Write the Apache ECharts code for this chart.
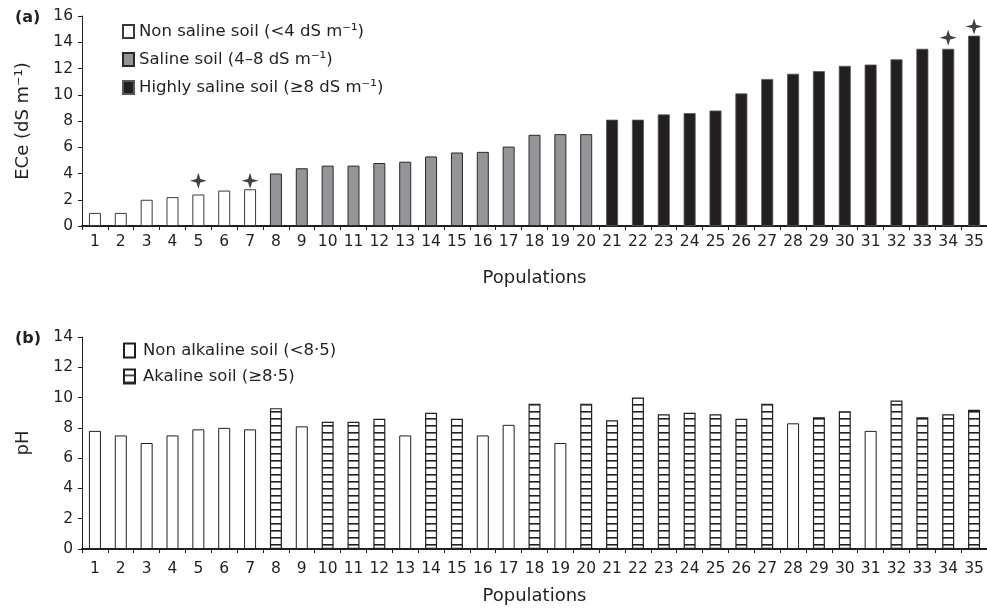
<!DOCTYPE html>
<html>
<head>
<meta charset="utf-8">
<script src="https://cdn.jsdelivr.net/npm/echarts@6/dist/echarts.min.js"></script>
<style>
html,body{margin:0;padding:0;background:#fff;}
#chart{width:987px;height:608px;}
</style>
</head>
<body>
<div id="chart"></div>
<script>
const populations = ['1','2','3','4','5','6','7','8','9','10','11','12','13','14','15','16','17','18','19','20','21','22','23','24','25','26','27','28','29','30','31','32','33','34','35'];
const eceValues = [1.0,1.0,2.0,2.2,2.4,2.7,2.8,4.0,4.4,4.6,4.6,4.8,4.9,5.3,5.6,5.65,6.05,6.95,7.0,7.0,8.1,8.1,8.5,8.6,8.8,10.1,11.2,11.6,11.8,12.2,12.3,12.7,13.5,13.5,14.5];
const phValues = [7.8,7.5,7.0,7.5,7.9,8.0,7.9,9.3,8.1,8.4,8.4,8.6,7.5,9.0,8.6,7.5,8.2,9.6,7.0,9.6,8.5,10.0,8.9,9.0,8.9,8.6,9.6,8.3,8.7,9.1,7.8,9.8,8.7,8.9,9.2];
const alkalinePops = ['8','10','11','12','14','15','18','20','21','22','23','24','25','26','27','29','30','32','33','34','35'];
const starPops = ['5','7','34','35'];
const starLevels = [3.45,3.45,14.35,15.2];
const salineNames = ['Non saline soil (<4 dS m\u207B\u00B9)','Saline soil (4\u20138 dS m\u207B\u00B9)','Highly saline soil (\u22658 dS m\u207B\u00B9)'];
const alkNames = ['Non alkaline soil (<8\u00B75)','Akaline soil (\u22658\u00B75)'];
const eceTitle = 'ECe (dS m\u207B\u00B9)';
const phTitle = 'pH';
const xTitle = 'Populations';

const FONT = 'DejaVu Sans';
const INK = '#231f20';

function hatch(){
  const c = document.createElement('canvas');
  c.width = 6; c.height = 7;
  const g = c.getContext('2d');
  g.fillStyle = '#fff'; g.fillRect(0,0,6,7);
  g.fillStyle = '#231f20'; g.fillRect(0,5,6,1.6);
  return c;
}

const nonSaline = eceValues.map(v => v < 4 ? v : null);
const saline = eceValues.map(v => (v >= 4 && v < 8) ? v : null);
const highSaline = eceValues.map(v => v >= 8 ? v : null);
const alk = phValues.map((v,i) => alkalinePops.includes(populations[i]) ? v : null);
const nonAlk = phValues.map((v,i) => alkalinePops.includes(populations[i]) ? null : v);
const stars = starPops.map((p,i) => [p, starLevels[i]]);

const chart = echarts.init(document.getElementById('chart'), null, {renderer:'canvas'});

function xAxis(gridIndex, labelMargin, nameGap){
  return {
    type:'category', gridIndex, data: populations,
    boundaryGap: true,
    axisLine:{lineStyle:{color:INK, width:2}},
    axisTick:{show:true, length:4, alignWithLabel:false, lineStyle:{color:INK, width:1}},
    axisLabel:{interval:0, margin:labelMargin, color:INK, fontSize:15.5, fontFamily:FONT},
    name: xTitle, nameLocation:'middle', nameGap,
    nameTextStyle:{color:INK, fontSize:18, fontFamily:FONT},
    splitLine:{show:false}
  };
}
function yAxis(gridIndex, max, name){
  return {
    type:'value', gridIndex, min:0, max, interval:2,
    axisLine:{show:true, lineStyle:{color:INK, width:1}},
    axisTick:{show:true, length:4, lineStyle:{color:INK}},
    axisLabel:{margin:9, color:INK, fontSize:15.5, fontFamily:FONT},
    splitLine:{show:false},
    name, nameLocation:'middle', nameGap:50,
    nameTextStyle:{color:INK, fontSize:18, fontFamily:FONT}
  };
}
const barBase = {type:'bar', barWidth:12, barGap:'-100%', emphasis:{disabled:true}};

chart.setOption({
  animation:false,
  backgroundColor:'#fff',
  title:[
    {text:'(a)', left:10, top:5, textStyle:{fontSize:16, fontWeight:'bold', color:INK, fontFamily:FONT}},
    {text:'(b)', left:10, top:326, textStyle:{fontSize:16, fontWeight:'bold', color:INK, fontFamily:FONT}}
  ],
  grid:[
    {left:82, top:16, width:906, height:210},
    {left:82, top:337, width:906, height:212}
  ],
  legend:[
    {data:salineNames, orient:'vertical', left:117, top:18, itemWidth:11, itemHeight:13, itemGap:11, icon:'rect',
     textStyle:{fontSize:16.5, color:INK, fontFamily:FONT, lineHeight:16}, selectedMode:false},
    {data:alkNames, orient:'vertical', left:118, top:337, itemWidth:11, itemHeight:14, itemGap:9, icon:'rect',
     textStyle:{fontSize:16.5, color:INK, fontFamily:FONT, lineHeight:16, padding:[0,0,0,3]}, selectedMode:false}
  ],
  xAxis:[xAxis(0, 8, 43), xAxis(1, 12, 38)],
  yAxis:[yAxis(0, 16, eceTitle), yAxis(1, 14, phTitle)],
  series:[
    Object.assign({}, barBase, {name:salineNames[0], xAxisIndex:0, yAxisIndex:0, data:nonSaline,
      itemStyle:{color:'#ffffff', borderColor:'#3a3a3a', borderWidth:1}}),
    Object.assign({}, barBase, {name:salineNames[1], xAxisIndex:0, yAxisIndex:0, data:saline,
      itemStyle:{color:'#939598', borderColor:'#2a2a2a', borderWidth:1}}),
    Object.assign({}, barBase, {name:salineNames[2], xAxisIndex:0, yAxisIndex:0, data:highSaline,
      itemStyle:{color:INK, borderColor:'#5a5a5a', borderWidth:0.8}}),
    {type:'scatter', name:'stars', xAxisIndex:0, yAxisIndex:0, data:stars,
      symbol:'path://M10,0 L12.3,7.7 L20,10 L12.3,12.3 L10,20 L7.7,12.3 L0,10 L7.7,7.7 Z',
      symbolSize:[17,16], itemStyle:{color:'#111'}, emphasis:{disabled:true}, z:5},
    Object.assign({}, barBase, {name:alkNames[0], xAxisIndex:1, yAxisIndex:1, data:nonAlk,
      itemStyle:{color:'#ffffff', borderColor:INK, borderWidth:1}}),
    Object.assign({}, barBase, {name:alkNames[1], xAxisIndex:1, yAxisIndex:1, data:alk,
      itemStyle:{color:{image:hatch(), repeat:'repeat'}, borderColor:INK, borderWidth:1.2}})
  ]
});
</script>
</body>
</html>
